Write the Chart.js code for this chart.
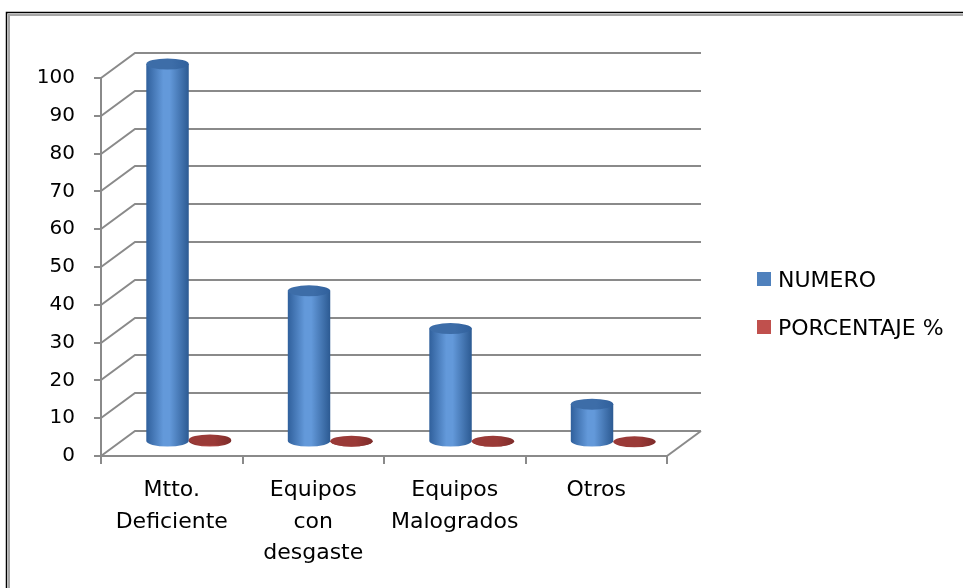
<!DOCTYPE html>
<html>
<head>
<meta charset="utf-8">
<script src="https://cdn.jsdelivr.net/npm/chart.js@4"></script>
<style>
  html, body { margin: 0; padding: 0; background: #fff; }
  #wrap { width: 963px; height: 588px; }
</style>
</head>
<body>
<div id="wrap"><canvas id="chart" width="963" height="588"></canvas></div>
<script>
const categories = [["Mtto.", "Deficiente"], ["Equipos", "con", "desgaste"], ["Equipos", "Malogrados"], "Otros"];
const numero = [100, 40, 30, 10];
const porcentaje = [0.56, 0.22, 0.17, 0.06];
const seriesNames = ["NUMERO", "PORCENTAJE %"];
const legendColors = ["#4f81bd", "#c0504d"];

const gridColor = "#8a8a8a";
const DEPTH = { dx: 34, dy: -25 };   // back wall offset
const MID = { dx: 17, dy: -14 };     // where the cylinders stand

// cylinder shading per series: [edge dark, highlight, edge right, top]
const shades = [
  ["#30609c", "#6399da", "#2c5a92", "#3d6da8"],
  ["#7e2c2a", "#b04744", "#7a2a28", "#9a3a37"]
];

function drawCylinder(ctx, cx, w, top, base, ry, s) {
  const rx = w / 2;
  const g = ctx.createLinearGradient(cx - rx, 0, cx + rx, 0);
  g.addColorStop(0, s[0]);
  g.addColorStop(0.4, s[1]);
  g.addColorStop(0.55, s[1]);
  g.addColorStop(1, s[2]);
  ctx.fillStyle = g;
  ctx.beginPath();
  ctx.moveTo(cx - rx, top);
  ctx.lineTo(cx - rx, base);
  ctx.ellipse(cx, base, rx, ry, 0, Math.PI, 0, true);
  ctx.lineTo(cx + rx, top);
  ctx.closePath();
  ctx.fill();
  // top face
  const tg = ctx.createLinearGradient(cx - rx, 0, cx + rx, 0);
  tg.addColorStop(0, s[3]);
  tg.addColorStop(0.6, s[3]);
  tg.addColorStop(1, s[0]);
  ctx.fillStyle = tg;
  ctx.beginPath();
  ctx.ellipse(cx, top, rx, ry, 0, 0, Math.PI * 2);
  ctx.fill();
}

const framePlugin = {
  id: "frame",
  beforeDraw(chart) {
    const ctx = chart.ctx;
    ctx.save();
    ctx.fillStyle = "#fff";
    ctx.fillRect(0, 0, chart.width, chart.height);
    ctx.strokeStyle = "#000";
    ctx.lineWidth = 1.5;
    ctx.strokeRect(6.5, 12.5, 2000, 2000);
    ctx.strokeStyle = "#a6a6a6";
    ctx.lineWidth = 2;
    ctx.strokeRect(9, 15, 2000, 2000);
    ctx.restore();
  }
};

const wallPlugin = {
  id: "wall3d",
  beforeDatasetsDraw(chart) {
    const { ctx, chartArea: a } = chart;
    const y = chart.scales.y;
    ctx.save();
    ctx.strokeStyle = gridColor;
    ctx.lineWidth = 2;
    y.ticks.forEach(t => {
      const py = Math.round(y.getPixelForValue(t.value));
      ctx.beginPath();
      ctx.moveTo(a.left, py);
      ctx.lineTo(a.left + DEPTH.dx, py + DEPTH.dy);
      ctx.lineTo(a.right + DEPTH.dx, py + DEPTH.dy);
      ctx.stroke();
    });
    // floor right edge
    ctx.beginPath();
    ctx.moveTo(a.right, a.bottom);
    ctx.lineTo(a.right + DEPTH.dx, a.bottom + DEPTH.dy);
    ctx.stroke();
    ctx.restore();
  },
  afterDatasetsDraw(chart) {
    const ctx = chart.ctx;
    ctx.save();
    chart.data.datasets.forEach((ds, i) => {
      const meta = chart.getDatasetMeta(i);
      meta.data.forEach(bar => {
        drawCylinder(ctx, bar.x + MID.dx, bar.width, bar.y + MID.dy, bar.base + MID.dy, 5.5, shades[i]);
      });
    });
    ctx.restore();
  },
  afterDraw(chart) {
    // legend on the right
    const ctx = chart.ctx;
    ctx.save();
    ctx.font = "22px 'DejaVu Sans'";
    ctx.textBaseline = "alphabetic";
    chart.data.datasets.forEach((ds, i) => {
      const top = 272 + i * 48;
      ctx.fillStyle = legendColors[i];
      ctx.fillRect(757, top, 14, 14);
      ctx.fillStyle = "#000";
      ctx.fillText(ds.label, 778, top + 15);
    });
    ctx.restore();
  }
};

new Chart(document.getElementById("chart"), {
  type: "bar",
  data: {
    labels: categories,
    datasets: [
      { label: seriesNames[0], data: numero, backgroundColor: "rgba(0,0,0,0)" },
      { label: seriesNames[1], data: porcentaje, backgroundColor: "rgba(0,0,0,0)" }
    ]
  },
  options: {
    responsive: false,
    animation: false,
    layout: { padding: { left: 0, top: 78, right: 296, bottom: 0 } },
    datasets: { bar: { categoryPercentage: 0.6, barPercentage: 1 } },
    plugins: { legend: { display: false }, tooltip: { enabled: false } },
    scales: {
      x: {
        grid: { drawOnChartArea: false, drawTicks: true, tickLength: 8, color: gridColor, lineWidth: 2 },
        border: { color: gridColor, width: 2 },
        ticks: {
          color: "#000", padding: 11, maxRotation: 0, autoSkip: false,
          font: { family: "DejaVu Sans", size: 22, lineHeight: 1.43 }
        },
        afterFit(scale) { scale.height = 132; }
      },
      y: {
        min: 0, max: 100,
        grid: { drawOnChartArea: false, drawTicks: true, tickLength: 7, color: gridColor, lineWidth: 2 },
        border: { color: gridColor, width: 2 },
        ticks: { stepSize: 10, color: "#000", padding: 19, font: { family: "DejaVu Sans", size: 20 } },
        afterFit(scale) { scale.width = 101; }
      }
    }
  },
  plugins: [framePlugin, wallPlugin]
});
</script>
</body>
</html>
